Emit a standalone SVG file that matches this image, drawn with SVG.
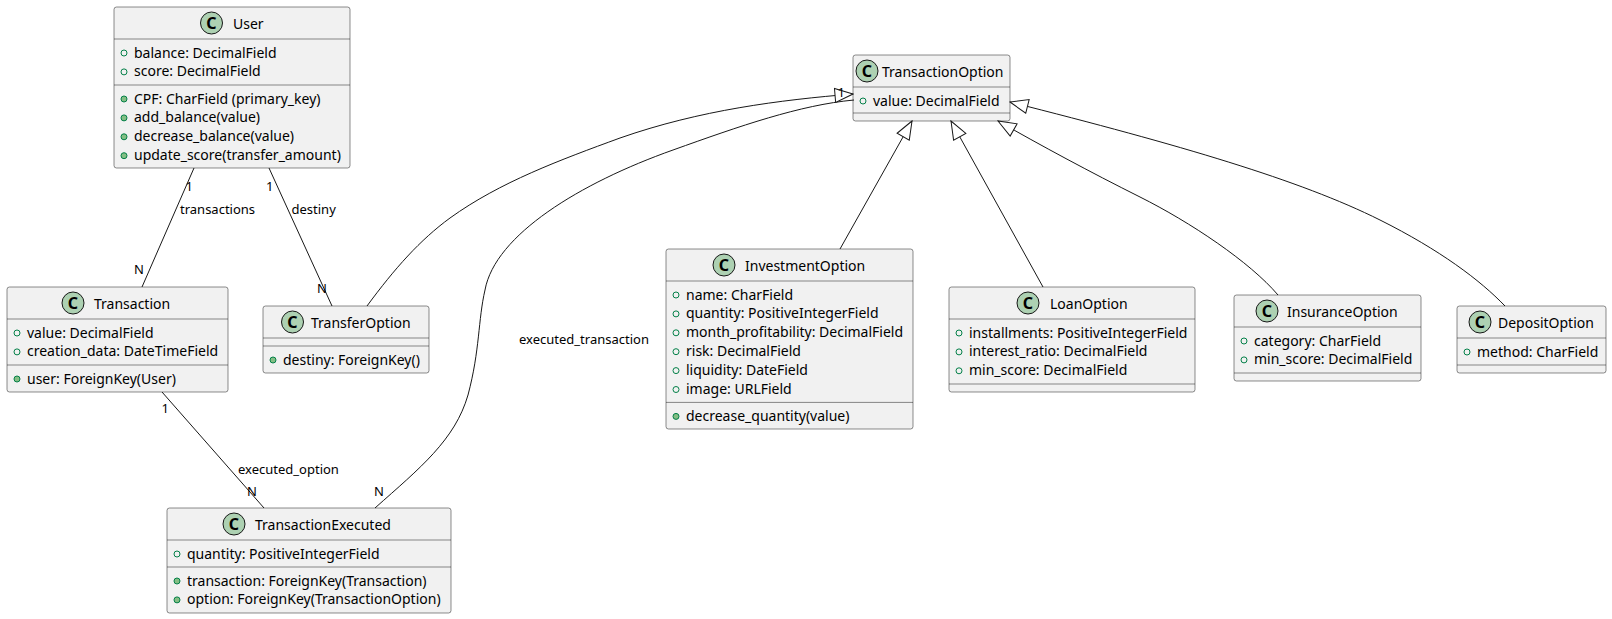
<svg xmlns="http://www.w3.org/2000/svg" width="1612" height="619" viewBox="0 0 1612 619">
<defs>
<style>
text{font-family:"Noto Sans","Liberation Sans",sans-serif;fill:#000000}
.box{fill:#F1F1F1;stroke:#181818;stroke-width:0.5}
.sep{stroke:#181818;stroke-width:0.5}
.ci{fill:#ADD1B2;stroke:#181818;stroke-width:1}
.cl{font-size:16px;font-weight:bold;text-anchor:middle}
.tt{font-size:14px}
.m{font-size:14px}
.fa{fill:none;stroke:#038048;stroke-width:1}
.fm{fill:#84BE84;stroke:#038048;stroke-width:1}
.ln{fill:none;stroke:#181818;stroke-width:1}
.lb{font-size:13px}
</style>
<marker id="ext" markerUnits="userSpaceOnUse" viewBox="0 0 20 16" markerWidth="20" markerHeight="16" refX="19" refY="8" orient="auto">
<path d="M19,8 L1,1 L1,15 Z" fill="#FFFFFF" stroke="#181818" stroke-width="1"/>
</marker>
</defs>
<rect width="1612" height="619" fill="#FFFFFF"/>

<g id="User">
<rect class="box" x="114" y="7" width="236" height="161" rx="2.5"/>
<circle class="ci" cx="211.5" cy="23" r="11"/><text class="cl" x="211.5" y="28.7">C</text>
<text class="tt" x="233" y="28.5">User</text>
<line class="sep" x1="114" y1="39" x2="350" y2="39"/>
<circle class="fa" cx="124" cy="53" r="3"/><text class="m" x="134" y="57.5">balance: DecimalField</text>
<circle class="fa" cx="124" cy="71.9" r="3"/><text class="m" x="134" y="76.4">score: DecimalField</text>
<line class="sep" x1="114" y1="85" x2="350" y2="85"/>
<circle class="fm" cx="124" cy="99" r="3"/><text class="m" x="134" y="103.5">CPF: CharField (primary_key)</text>
<circle class="fm" cx="124" cy="117.9" r="3"/><text class="m" x="134" y="122.4">add_balance(value)</text>
<circle class="fm" cx="124" cy="136.8" r="3"/><text class="m" x="134" y="141.3">decrease_balance(value)</text>
<circle class="fm" cx="124" cy="155.7" r="3"/><text class="m" x="134" y="160.2">update_score(transfer_amount)</text>
</g>

<g id="Transaction">
<rect class="box" x="7" y="287" width="221" height="105" rx="2.5"/>
<circle class="ci" cx="73" cy="303" r="11"/><text class="cl" x="73" y="308.7">C</text>
<text class="tt" x="94" y="308.5">Transaction</text>
<line class="sep" x1="7" y1="319" x2="228" y2="319"/>
<circle class="fa" cx="17" cy="333" r="3"/><text class="m" x="27" y="337.5">value: DecimalField</text>
<circle class="fa" cx="17" cy="351.9" r="3"/><text class="m" x="27" y="356.4">creation_data: DateTimeField</text>
<line class="sep" x1="7" y1="365" x2="228" y2="365"/>
<circle class="fm" cx="17" cy="379" r="3"/><text class="m" x="27" y="383.5">user: ForeignKey(User)</text>
</g>

<g id="TransferOption">
<rect class="box" x="263" y="306" width="166" height="67" rx="2.5"/>
<circle class="ci" cx="292.5" cy="322" r="11"/><text class="cl" x="292.5" y="327.7">C</text>
<text class="tt" x="311" y="327.5">TransferOption</text>
<line class="sep" x1="263" y1="338" x2="429" y2="338"/>
<line class="sep" x1="263" y1="346" x2="429" y2="346"/>
<circle class="fm" cx="273" cy="360" r="3"/><text class="m" x="283" y="364.5">destiny: ForeignKey()</text>
</g>

<g id="TransactionExecuted">
<rect class="box" x="167" y="508" width="284" height="105" rx="2.5"/>
<circle class="ci" cx="234" cy="524" r="11"/><text class="cl" x="234" y="529.7">C</text>
<text class="tt" x="255" y="529.5">TransactionExecuted</text>
<line class="sep" x1="167" y1="540" x2="451" y2="540"/>
<circle class="fa" cx="177" cy="554" r="3"/><text class="m" x="187" y="558.5">quantity: PositiveIntegerField</text>
<line class="sep" x1="167" y1="567" x2="451" y2="567"/>
<circle class="fm" cx="177" cy="581" r="3"/><text class="m" x="187" y="585.5">transaction: ForeignKey(Transaction)</text>
<circle class="fm" cx="177" cy="599.9" r="3"/><text class="m" x="187" y="604.4">option: ForeignKey(TransactionOption)</text>
</g>

<g id="TransactionOption">
<rect class="box" x="853" y="55" width="157" height="66" rx="2.5"/>
<circle class="ci" cx="867" cy="71" r="11"/><text class="cl" x="867" y="76.7">C</text>
<text class="tt" x="882" y="76.5">TransactionOption</text>
<line class="sep" x1="853" y1="87" x2="1010" y2="87"/>
<circle class="fa" cx="863" cy="101" r="3"/><text class="m" x="873" y="105.5">value: DecimalField</text>
<line class="sep" x1="853" y1="113" x2="1010" y2="113"/>
</g>

<g id="InvestmentOption">
<rect class="box" x="666" y="249" width="247" height="180" rx="2.5"/>
<circle class="ci" cx="724" cy="265" r="11"/><text class="cl" x="724" y="270.7">C</text>
<text class="tt" x="745" y="270.5">InvestmentOption</text>
<line class="sep" x1="666" y1="281" x2="913" y2="281"/>
<circle class="fa" cx="676" cy="295" r="3"/><text class="m" x="686" y="299.5">name: CharField</text>
<circle class="fa" cx="676" cy="313.9" r="3"/><text class="m" x="686" y="318.4">quantity: PositiveIntegerField</text>
<circle class="fa" cx="676" cy="332.8" r="3"/><text class="m" x="686" y="337.3">month_profitability: DecimalField</text>
<circle class="fa" cx="676" cy="351.7" r="3"/><text class="m" x="686" y="356.2">risk: DecimalField</text>
<circle class="fa" cx="676" cy="370.6" r="3"/><text class="m" x="686" y="375.1">liquidity: DateField</text>
<circle class="fa" cx="676" cy="389.5" r="3"/><text class="m" x="686" y="394">image: URLField</text>
<line class="sep" x1="666" y1="402.4" x2="913" y2="402.4"/>
<circle class="fm" cx="676" cy="416.4" r="3"/><text class="m" x="686" y="420.9">decrease_quantity(value)</text>
</g>

<g id="LoanOption">
<rect class="box" x="949" y="287" width="246" height="105" rx="2.5"/>
<circle class="ci" cx="1028" cy="303" r="11"/><text class="cl" x="1028" y="308.7">C</text>
<text class="tt" x="1050" y="308.5">LoanOption</text>
<line class="sep" x1="949" y1="319" x2="1195" y2="319"/>
<circle class="fa" cx="959" cy="333" r="3"/><text class="m" x="969" y="337.5">installments: PositiveIntegerField</text>
<circle class="fa" cx="959" cy="351.9" r="3"/><text class="m" x="969" y="356.4">interest_ratio: DecimalField</text>
<circle class="fa" cx="959" cy="370.8" r="3"/><text class="m" x="969" y="375.3">min_score: DecimalField</text>
<line class="sep" x1="949" y1="384" x2="1195" y2="384"/>
</g>

<g id="InsuranceOption">
<rect class="box" x="1234" y="295" width="187" height="86" rx="2.5"/>
<circle class="ci" cx="1267" cy="311" r="11"/><text class="cl" x="1267" y="316.7">C</text>
<text class="tt" x="1287" y="316.5">InsuranceOption</text>
<line class="sep" x1="1234" y1="327" x2="1421" y2="327"/>
<circle class="fa" cx="1244" cy="341" r="3"/><text class="m" x="1254" y="345.5">category: CharField</text>
<circle class="fa" cx="1244" cy="359.9" r="3"/><text class="m" x="1254" y="364.4">min_score: DecimalField</text>
<line class="sep" x1="1234" y1="373" x2="1421" y2="373"/>
</g>

<g id="DepositOption">
<rect class="box" x="1457" y="306" width="149" height="67" rx="2.5"/>
<circle class="ci" cx="1480" cy="322" r="11"/><text class="cl" x="1480" y="327.7">C</text>
<text class="tt" x="1498" y="327.5">DepositOption</text>
<line class="sep" x1="1457" y1="338" x2="1606" y2="338"/>
<circle class="fa" cx="1467" cy="352" r="3"/><text class="m" x="1477" y="356.5">method: CharField</text>
<line class="sep" x1="1457" y1="365" x2="1606" y2="365"/>
</g>

<g id="connectors">
<path class="ln" d="M194,168 L142,287"/>
<path class="ln" d="M269,168 L332,306"/>
<path class="ln" d="M162,392 L264,508"/>
<path class="ln" d="M375,508 C420,468 455,440 468,395 C480,350 478,320 485,290 C495,235 580,183 673,150 C740,126 800,105 854,100"/>
<path class="ln" marker-end="url(#ext)" d="M367,306 C395,268 420,240 450,218 C500,182 560,160 620,138 C700,110 780,100 853,94"/>
<path class="ln" marker-end="url(#ext)" d="M840,249 L912,121"/>
<path class="ln" marker-end="url(#ext)" d="M1043,287 L951,121"/>
<path class="ln" marker-end="url(#ext)" d="M1278,295 C1250,262 1190,222 1140,197 C1090,172 1040,145 998,121"/>
<path class="ln" marker-end="url(#ext)" d="M1505,306 C1480,280 1440,250 1380,220 C1300,180 1180,145 1010,102"/>
</g>

<g id="labels">
<text class="lb" x="185.5" y="191">1</text>
<text class="lb" x="180" y="214">transactions</text>
<text class="lb" x="134" y="274">N</text>
<text class="lb" x="266" y="191">1</text>
<text class="lb" x="291.5" y="214">destiny</text>
<text class="lb" x="317" y="292.5">N</text>
<text class="lb" x="161.5" y="412.5">1</text>
<text class="lb" x="238" y="474">executed_option</text>
<text class="lb" x="247" y="496">N</text>
<text class="lb" x="374" y="496">N</text>
<text class="lb" x="519" y="344">executed_transaction</text>
<text class="lb" x="837.5" y="97">1</text>
</g>
</svg>
